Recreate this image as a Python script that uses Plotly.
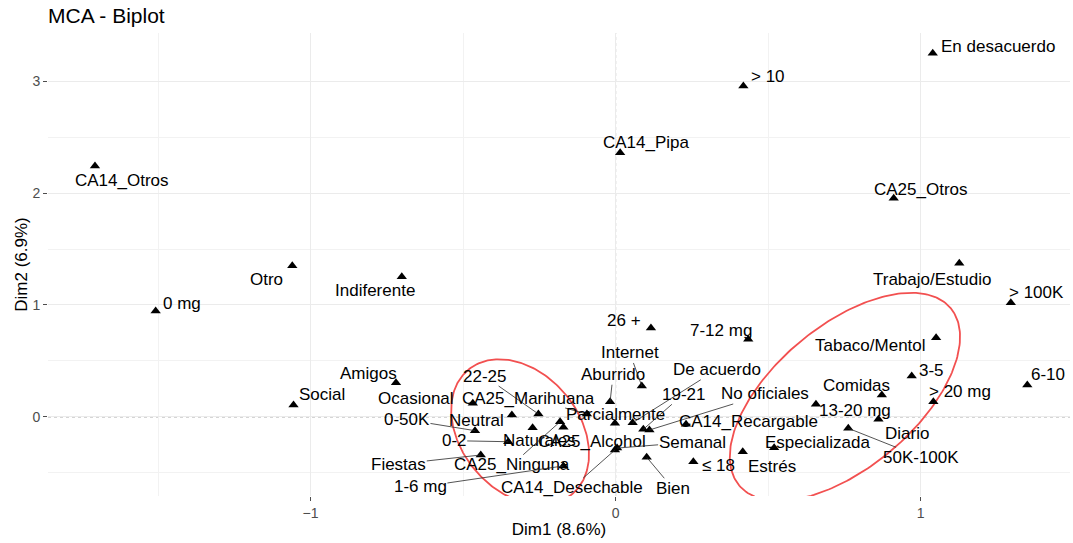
import math
import plotly.graph_objects as go

# ---- data ----
labels = [
    "En desacuerdo", "> 10", "CA14_Pipa", "CA25_Otros", "Trabajo/Estudio", "> 100K",
    "CA14_Otros", "0 mg", "Otro", "Indiferente", "Social", "Amigos", "Ocasional",
    "22-25", "CA25_Marihuana", "Neutral", "0-50K", "0-2", "Naturales", "CA25_Alcohol",
    "CA25_Ninguna", "Fiestas", "1-6 mg", "CA14_Desechable", "Semanal", "Parcialmente",
    "Aburrido", "Internet", "De acuerdo", "19-21", "No oficiales", "CA14_Recargable",
    "Bien", "≤ 18", "26 +", "7-12 mg", "Estrés", "Especializada", "50K-100K",
    "13-20 mg", "Comidas", "Diario", "3-5", "> 20 mg", "Tabaco/Mentol", "6-10",
]
dim1 = [
    1.040, 0.419, 0.015, 0.912, 1.127, 1.296,
    -1.707, -1.508, -1.060, -0.701, -1.056, -0.720, -0.468,
    -0.253, -0.094, -0.340, -0.461, -0.352, -0.272, -0.171,
    -0.182, -0.442, -0.171, -0.002, 0.005, -0.002,
    -0.018, 0.086, 0.056, 0.091, 0.111, 0.231,
    0.102, 0.255, 0.116, 0.435, 0.417, 0.520, 0.763,
    0.657, 0.873, 0.862, 0.971, 1.042, 1.051, 1.350,
]
dim2 = [
    3.253, 2.961, 2.364, 1.955, 1.373, 1.021,
    2.245, 0.946, 1.352, 1.253, 0.105, 0.304, 0.120,
    0.024, 0.024, 0.015, -0.125, -0.224, -0.098, -0.095,
    -0.045, -0.343, -0.441, -0.298, -0.281, -0.059,
    0.134, 0.275, -0.054, -0.113, -0.119, -0.068,
    -0.363, -0.403, 0.794, 0.693, -0.313, -0.277, -0.104,
    0.111, 0.194, -0.023, 0.364, 0.134, 0.707, 0.284,
]
x_title = "Dim1 (8.6%)"
y_title = "Dim2 (6.9%)"
chart_title = "MCA - Biplot"

# ---- label placement (pixel offsets from the point, repel-like) ----
label_offsets = {
    "En desacuerdo": (65, -7), "> 10": (25, -9), "CA14_Pipa": (26, -10),
    "CA25_Otros": (27, -9), "Trabajo/Estudio": (-27, 16), "> 100K": (26, -10),
    "CA14_Otros": (27, 15), "0 mg": (26, -8), "Otro": (-26, 14),
    "Indiferente": (-27, 14), "Social": (28, -10), "Amigos": (-27, -9),
    "Ocasional": (-57, -5), "22-25": (-54, -38), "CA25_Marihuana": (-58, -16),
    "Neutral": (-35, 5), "0-50K": (-68, -11), "0-2": (-54, -1),
    "Naturales": (7, 13), "CA25_Alcohol": (29, 14), "CA25_Ninguna": (-48, 43),
    "Fiestas": (-82, 9), "1-6 mg": (-143, 21), "CA14_Desechable": (-43, 38),
    "Semanal": (75, -6), "Parcialmente": (1, -9), "Aburrido": (3, -27),
    "Internet": (-12, -33), "De acuerdo": (84, -53), "19-21": (40, -35),
    "No oficiales": (116, -36), "CA14_Recargable": (62, -3), "Bien": (26, 31),
    "≤ 18": (25, 4), "26 +": (-27, -8), "7-12 mg": (-27, -9),
    "Estrés": (29, 15), "Especializada": (43, -5), "50K-100K": (73, 29),
    "13-20 mg": (39, 6), "Comidas": (-25, -10), "Diario": (29, 14),
    "3-5": (20, -6), "> 20 mg": (27, -10), "Tabaco/Mentol": (-66, 8),
    "6-10": (21, -10),
}
segment_labels = {
    "22-25", "CA25_Marihuana", "0-50K", "0-2", "Fiestas", "CA25_Ninguna", "1-6 mg",
    "CA14_Desechable", "Bien", "Semanal", "Aburrido", "Internet", "De acuerdo",
    "19-21", "No oficiales", "50K-100K",
}

# ---- highlight ellipses (centre in data units, radii in pixels, tilt in degrees) ----
XPX, YPX = 305.0, 111.7  # pixels per data unit of the panel
ellipses = [
    dict(cx=-0.313, cy=-0.137, a=81, b=59, tilt=-50),
    dict(cx=0.752, cy=0.178, a=138, b=71, tilt=40),
]

FONT = "Liberation Sans, Arial, sans-serif"

fig = go.Figure()

for e in ellipses:
    phi = math.radians(e["tilt"])
    ex, ey = [], []
    for i in range(241):
        t = 2 * math.pi * i / 240
        px = e["a"] * math.cos(t) * math.cos(phi) - e["b"] * math.sin(t) * math.sin(phi)
        py = e["a"] * math.cos(t) * math.sin(phi) + e["b"] * math.sin(t) * math.cos(phi)
        ex.append(e["cx"] + px / XPX)
        ey.append(e["cy"] + py / YPX)
    fig.add_trace(go.Scatter(x=ex, y=ey, mode="lines",
                             line=dict(color="rgb(242,80,80)", width=1.8),
                             hoverinfo="skip", showlegend=False))

fig.add_trace(go.Scatter(
    x=dim1, y=dim2, mode="markers", text=labels,
    marker=dict(symbol="triangle-up", size=9, color="black"),
    hoverinfo="text", showlegend=False,
))

for lab, xv, yv in zip(labels, dim1, dim2):
    dx, dy = label_offsets[lab]
    seg = lab in segment_labels
    fig.add_annotation(
        x=xv, y=yv, text=lab, showarrow=True, ax=dx, ay=dy,
        arrowhead=0, arrowwidth=0.8, standoff=0, startstandoff=0,
        arrowcolor="rgba(40,40,40,1)" if seg else "rgba(0,0,0,0)",
        font=dict(family=FONT, size=17, color="black"),
        borderpad=0,
    )

# dashed reference lines through the origin
fig.add_shape(type="line", xref="x", yref="paper", x0=0, x1=0, y0=0, y1=1,
              line=dict(color="#222222", width=1, dash="3px,3px"), layer="below")
fig.add_shape(type="line", xref="paper", yref="y", x0=0, x1=1, y0=0, y1=0,
              line=dict(color="#222222", width=1, dash="3px,3px"), layer="below")

axis_common = dict(
    showgrid=True, gridcolor="#EBEBEB", gridwidth=1.2,
    zeroline=False, showline=False,
    ticks="outside", ticklen=4, tickwidth=1, tickcolor="#4D4D4D",
    tickfont=dict(family=FONT, size=14, color="#4D4D4D"),
    dtick=1, tick0=0,
    minor=dict(dtick=0.5, tick0=0, showgrid=True, gridcolor="#F2F2F2", gridwidth=0.8, ticks=""),
)

fig.update_layout(
    width=1073, height=543,
    margin=dict(l=48, r=3, t=33, b=47),
    paper_bgcolor="white", plot_bgcolor="white",
    title=dict(text=chart_title, x=48 / 1073, xref="container", xanchor="left",
               y=1 - 16 / 543, yref="container", yanchor="middle",
               font=dict(family=FONT, size=21, color="black")),
    xaxis=dict(range=[-1.861, 1.49], title=dict(text=x_title, standoff=3,
               font=dict(family=FONT, size=17, color="black")), automargin=False, **axis_common),
    yaxis=dict(range=[-0.71, 3.435], title=dict(text=y_title, standoff=0,
               font=dict(family=FONT, size=17, color="black")), automargin=False, **axis_common),
    showlegend=False,
)

fig.write_html("out.html", config={"displayModeBar": False},
               post_script="document.body.style.margin='0px';document.body.style.overflow='hidden';")
